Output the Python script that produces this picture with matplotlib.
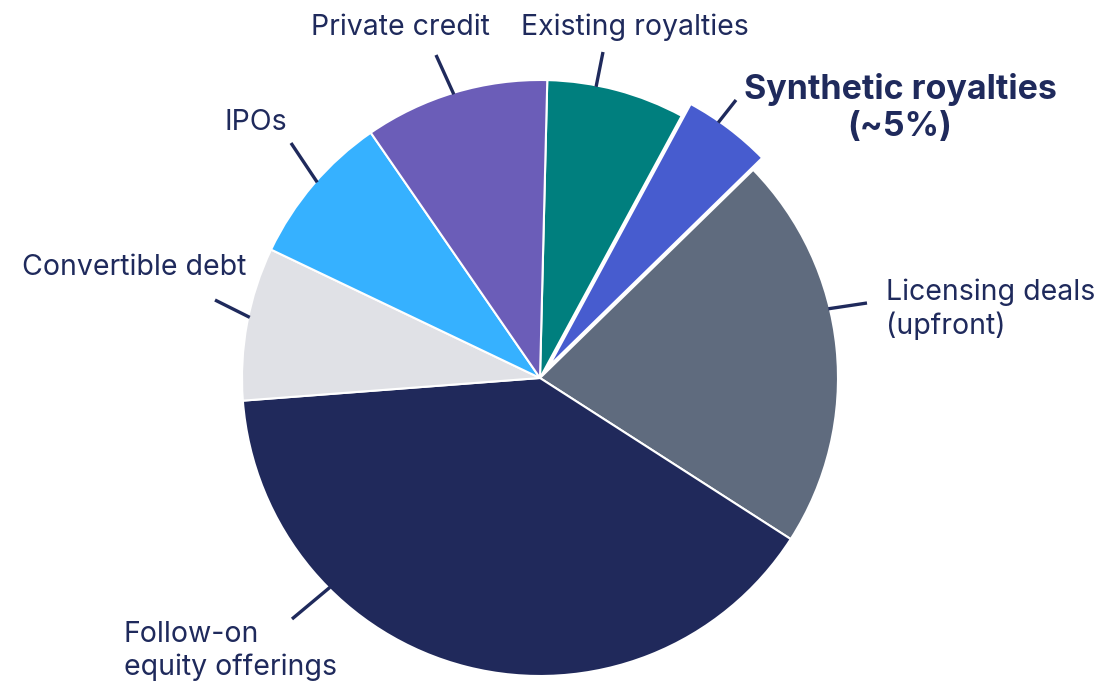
import numpy as np
import matplotlib
matplotlib.use("Agg")
import matplotlib.pyplot as plt

# -----------------------------------------------------------
# Data: share of funding by source (%), clockwise from top
# -----------------------------------------------------------
labels = ["Existing royalties", "Synthetic royalties\n(~5%)", "Licensing deals\n(upfront)",
          "Follow-on\nequity offerings", "Convertible debt", "IPOs", "Private credit"]
shares = [7.5, 4.8, 21.4, 39.7, 8.3, 8.3, 10.0]
colors = ["#007F7E", "#475CCF", "#5F6B7E", "#20295B", "#E0E1E6", "#36B1FF", "#6B5DB8"]

NAVY = "#1F2A5C"
W, H = 1105, 682
CX, CY, R = 540, 378, 298   # pie centre / radius in pixels (from top-left)

plt.rcParams['font.family'] = ['Inter', 'DejaVu Sans']

fig = plt.figure(figsize=(W / 100, H / 100), dpi=100)
ax = fig.add_axes([0, 0, 1, 1])

explode = [0, 0.05, 0, 0, 0, 0, 0]
wedges, _ = ax.pie(shares, colors=colors, startangle=88.6, counterclock=False,
                   explode=explode, radius=1.0,
                   wedgeprops=dict(edgecolor="white", linewidth=1.5))

# pie() resets the limits, so set them afterwards
ax.set_xlim(-CX / R, (W - CX) / R)
ax.set_ylim((CY - H) / R, CY / R)
ax.set_aspect("equal")
ax.axis("off")


def px(x, y):
    # pixel (top-left origin) -> data coords
    return (x - CX) / R, (CY - y) / R


# -----------------------------------------------------------
# Leader lines: from a point on the wedge rim to a point by the label
# -----------------------------------------------------------
anchor_angle = [79.1, 55.2, 13.5, -135.1, 168.2, 138.7, 106.9]
line_end = [(603, 52), (736, 100), (867, 303), (292, 619), (215, 300), (291, 143), (436, 55)]
for i, w in enumerate(wedges):
    c = np.array(w.center)
    a = np.deg2rad(anchor_angle[i])
    x0, y0 = c[0] + 0.995 * np.cos(a), c[1] + 0.995 * np.sin(a)
    x1, y1 = px(*line_end[i])
    ax.plot([x0, x1], [y0, y1], color=NAVY, lw=2.4, solid_capstyle="butt")

# label positions in pixels
label_pos = [(635, 27, "center"), (900, 108, "center"), (886, 309, "left"),
             (124, 651, "left"), (134, 267, "center"), (256, 122, "center"),
             (400, 27, "center")]
for i, (lx, ly, ha) in enumerate(label_pos):
    x, y = px(lx, ly)
    bold = i == 1
    ax.text(x, y, labels[i], ha=ha, va="center", color=NAVY,
            fontsize=24.5 if bold else 20.5, fontweight="bold" if bold else "normal",
            linespacing=1.22 if bold else 1.25,
            multialignment="center" if bold else "left")

fig.savefig("out.png", dpi=100)
